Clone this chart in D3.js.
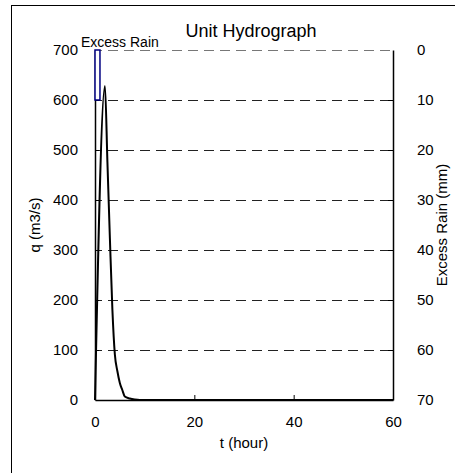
<!DOCTYPE html>
<html><head><meta charset="utf-8">
<script src="https://cdn.jsdelivr.net/npm/d3@7"></script>
<style>
html,body{margin:0;padding:0;background:#fff;}
svg{display:block;font-family:"Liberation Sans",Arial,sans-serif;}
</style></head>
<body>
<svg id="c" width="455" height="473"></svg>
<script>
// Data
const hourT = [0, 2, 2.5, 3, 3.5, 4, 4.5, 5, 5.5, 6, 7, 8, 9, 10, 20, 30, 40, 50, 60];
const flowQ = [0, 628, 476, 323, 181, 91, 58, 34, 20, 7, 3, 1, 0, 0, 0, 0, 0, 0, 0];
const rainStart = [0];
const rainEnd = [1];
const rainDepth = [10];
const xTicks = [0, 20, 40, 60];
const qTicks = [0, 100, 200, 300, 400, 500, 600, 700];
const rainTicks = [0, 10, 20, 30, 40, 50, 60, 70];
const titleText = "Unit Hydrograph";
const xTitle = "t (hour)";
const yTitle = "q (m3/s)";
const y2Title = "Excess Rain (mm)";
const legendText = "Excess Rain";

const svg = d3.select("#c");
const L = 95, R = 393, T = 50, B = 400;
const x = d3.scaleLinear().domain([0, 60]).range([L, R]);
const y = d3.scaleLinear().domain([0, 700]).range([B, T]);
const y2 = d3.scaleLinear().domain([0, 70]).range([T, B]);

// outer frame
svg.append("rect").attr("x", 11.5).attr("y", 5.5).attr("width", 460).attr("height", 480)
  .attr("fill", "#fff").attr("stroke", "#000").attr("stroke-width", 1);

// gridlines
svg.append("g").selectAll("line").data(qTicks.filter(d => d > 0)).join("line")
  .attr("x1", L).attr("x2", R)
  .attr("y1", d => Math.round(y(d)) + 0.5).attr("y2", d => Math.round(y(d)) + 0.5)
  .attr("stroke", d => d === 700 ? "#777" : "#222").attr("stroke-width", 1)
  .attr("stroke-dasharray", "10,6").attr("stroke-dashoffset", 3);

// axes
const fs = "15px";
const gL = svg.append("g").attr("transform", `translate(${L},0)`)
  .call(d3.axisLeft(y).tickValues(qTicks).tickSizeInner(-4).tickSizeOuter(0).tickPadding(17));
const gR = svg.append("g").attr("transform", `translate(${R},0)`)
  .call(d3.axisRight(y2).tickValues(rainTicks).tickSizeInner(-5).tickSizeOuter(0).tickPadding(24));
const gB = svg.append("g").attr("transform", `translate(0,${B})`)
  .call(d3.axisBottom(x).tickValues(xTicks).tickSizeInner(-5).tickSizeOuter(0).tickPadding(16));
[gL, gR, gB].forEach(g => {
  g.select(".domain").attr("stroke", "#000").attr("stroke-width", 1.5);
  g.selectAll(".tick line").attr("stroke", "#000");
  g.selectAll("text").attr("font-size", fs).attr("font-family", '"Liberation Sans",Arial,sans-serif').attr("fill", "#000");
});
gB.selectAll(".tick").filter(d => d === 0 || d === 60).select("line").remove();
gR.selectAll(".tick").filter(d => d === 0 || d === 70).select("line").remove();
gL.selectAll(".tick").filter(d => d === 0).select("line").remove();

// rain bars
svg.append("g").selectAll("rect").data(rainDepth).join("rect")
  .attr("x", (d, i) => x(rainStart[i]))
  .attr("y", y2(0))
  .attr("width", (d, i) => x(rainEnd[i]) - x(rainStart[i]))
  .attr("height", d => y2(d) - y2(0))
  .attr("fill", "#fff").attr("stroke", "#000080").attr("stroke-width", 1.5);

// hydrograph
const pts = hourT.map((t, i) => [t, flowQ[i]]);
svg.append("path").datum(pts)
  .attr("d", d3.line().x(d => x(d[0])).y(d => y(d[1])).curve(d3.curveMonotoneX))
  .attr("fill", "none").attr("stroke", "#000").attr("stroke-width", 2);

// texts
svg.append("text").attr("x", 251).attr("y", 37).attr("text-anchor", "middle")
  .attr("font-size", "18px").text(titleText);
svg.append("text").attr("x", 81).attr("y", 47).attr("font-size", "14px").text(legendText);
svg.append("text").attr("x", 244).attr("y", 448).attr("text-anchor", "middle")
  .attr("font-size", fs).text(xTitle);
svg.append("text").attr("transform", "translate(40,225) rotate(-90)").attr("text-anchor", "middle")
  .attr("font-size", fs).text(yTitle);
svg.append("text").attr("transform", "translate(447,225) rotate(-90)").attr("text-anchor", "middle")
  .attr("font-size", fs).text(y2Title);
</script>
</body></html>
